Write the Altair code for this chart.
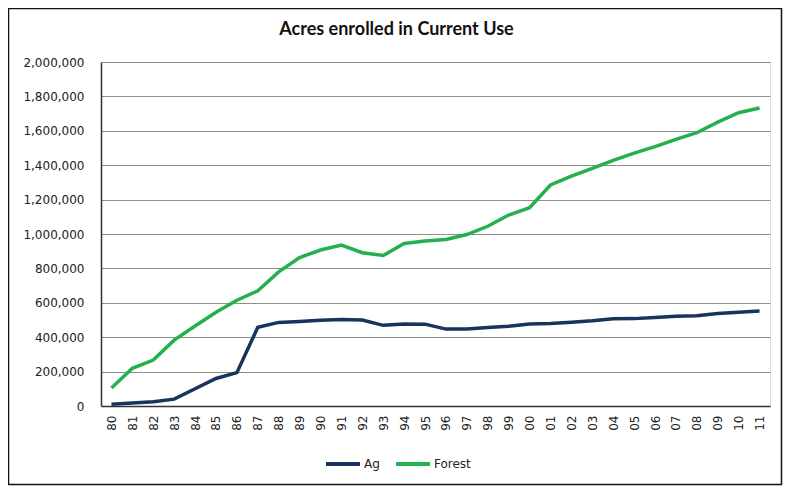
import altair as alt
import pandas as pd

years = ["80", "81", "82", "83", "84", "85", "86", "87", "88", "89", "90", "91",
         "92", "93", "94", "95", "96", "97", "98", "99", "00", "01", "02", "03",
         "04", "05", "06", "07", "08", "09", "10", "11"]
ag = [10000, 17000, 25000, 40000, 100000, 160000, 194000, 458000, 486000, 491000,
      498000, 503000, 500000, 469000, 477000, 476000, 447000, 448000, 456000, 464000,
      477000, 479000, 487000, 495000, 507000, 508000, 515000, 522000, 525000, 538000,
      545000, 553000]
forest = [105000, 219000, 267000, 383000, 465000, 545000, 615000, 670000, 780000, 863000,
          907000, 936000, 891000, 875000, 945000, 959000, 968000, 997000, 1045000, 1110000,
          1153000, 1285000, 1337000, 1382000, 1428000, 1470000, 1508000, 1550000, 1589000, 1650000,
          1705000, 1733000]
series = ["Ag", "Forest"]
colors = ["#17335E", "#25B04E"]

rows = []
for i, y in enumerate(years):
    rows.append({"year": y, "series": "Ag", "acres": ag[i]})
    rows.append({"year": y, "series": "Forest", "acres": forest[i]})
df = pd.DataFrame(rows)

W, H = 669, 344

lines = alt.Chart(df).mark_line(strokeWidth=3.5).encode(
    x=alt.X("year:O", sort=years, title=None,
            scale=alt.Scale(type="point", padding=0.5),
            axis=alt.Axis(labelAngle=270, labelAlign="right", labelBaseline="middle",
                          ticks=False, labelPadding=9, domainColor="#333333",
                          domainWidth=1.5, labelFont="DejaVu Sans", labelFontSize=12,
                          labelColor="#222222")),
    y=alt.Y("acres:Q", title=None,
            scale=alt.Scale(domain=[0, 2000000], nice=False),
            axis=alt.Axis(values=list(range(0, 2000001, 200000)), format=",d",
                          ticks=False, labelPadding=17, domainColor="#333333",
                          domainWidth=1.5, gridColor="#8F8F86", gridWidth=1,
                          labelFont="DejaVu Sans", labelFontSize=12,
                          labelColor="#222222")),
    color=alt.Color("series:N", scale=alt.Scale(domain=series, range=colors),
                    legend=alt.Legend(title=None, orient="none", direction="horizontal",
                                      legendX=223, legendY=383, symbolType="stroke",
                                      symbolSize=1156, symbolStrokeWidth=4,
                                      labelFont="DejaVu Sans", labelFontSize=12,
                                      labelColor="#222222", columnPadding=8,
                                      labelOffset=2)),
)

border = alt.Chart(alt.Data(values=[{"a": 1}])).mark_rect(
    fillOpacity=0, stroke="#111111", strokeWidth=1.5
).encode(
    x=alt.value(-92.5), x2=alt.value(680.5), y=alt.value(-53.5), y2=alt.value(422.5)
)

chart = alt.layer(border, lines).properties(
    width=W, height=H,
    title=alt.TitleParams("Acres enrolled in Current Use", font="Lato", fontSize=18,
                          fontWeight="bold", color="#111111", anchor="middle",
                          dx=-39, dy=53, offset=22),
    autosize=alt.AutoSizeParams(type="none"),
    padding={"left": 93, "top": 54, "right": 15, "bottom": 81},
).configure_view(fill="#FFFFCC", stroke=None).configure(background="white")

chart.save("out.html", embed_options={"renderer": "svg", "actions": False})
